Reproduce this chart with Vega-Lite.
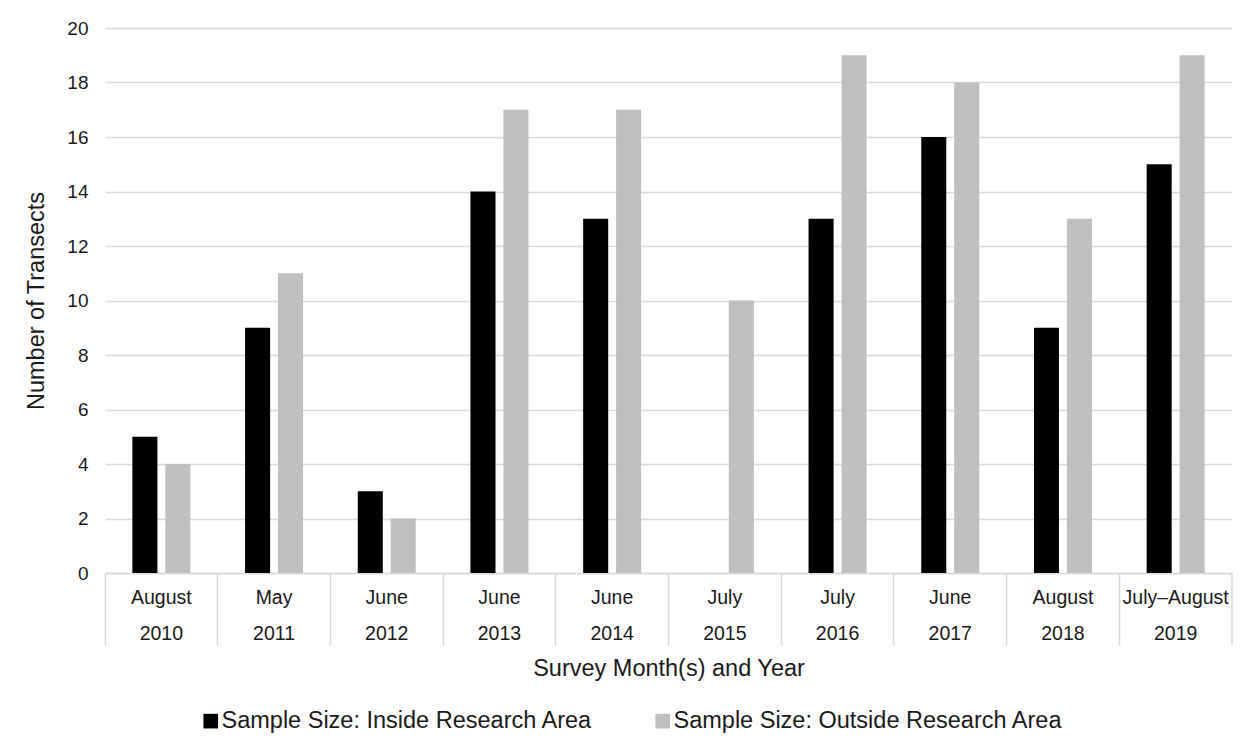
{
  "$schema": "https://vega.github.io/schema/vega-lite/v6.json",
  "autosize": {"type": "none"},
  "width": 1127,
  "height": 545,
  "padding": {"left": 105, "top": 28, "right": 18, "bottom": 174},
  "background": "white",
  "config": {
    "font": "Liberation Sans",
    "view": {"stroke": null}
  },
  "data": {
    "values": [
      {"period": "August|2010", "series": "Sample Size: Inside Research Area", "count": 5},
      {"period": "August|2010", "series": "Sample Size: Outside Research Area", "count": 4},
      {"period": "May|2011", "series": "Sample Size: Inside Research Area", "count": 9},
      {"period": "May|2011", "series": "Sample Size: Outside Research Area", "count": 11},
      {"period": "June|2012", "series": "Sample Size: Inside Research Area", "count": 3},
      {"period": "June|2012", "series": "Sample Size: Outside Research Area", "count": 2},
      {"period": "June|2013", "series": "Sample Size: Inside Research Area", "count": 14},
      {"period": "June|2013", "series": "Sample Size: Outside Research Area", "count": 17},
      {"period": "June|2014", "series": "Sample Size: Inside Research Area", "count": 13},
      {"period": "June|2014", "series": "Sample Size: Outside Research Area", "count": 17},
      {"period": "July|2015", "series": "Sample Size: Outside Research Area", "count": 10},
      {"period": "July|2016", "series": "Sample Size: Inside Research Area", "count": 13},
      {"period": "July|2016", "series": "Sample Size: Outside Research Area", "count": 19},
      {"period": "June|2017", "series": "Sample Size: Inside Research Area", "count": 16},
      {"period": "June|2017", "series": "Sample Size: Outside Research Area", "count": 18},
      {"period": "August|2018", "series": "Sample Size: Inside Research Area", "count": 9},
      {"period": "August|2018", "series": "Sample Size: Outside Research Area", "count": 13},
      {"period": "July–August|2019", "series": "Sample Size: Inside Research Area", "count": 15},
      {"period": "July–August|2019", "series": "Sample Size: Outside Research Area", "count": 19}
    ]
  },
  "layer": [
    {
      "mark": {"type": "bar"},
      "encoding": {
        "x": {
          "field": "period",
          "type": "nominal",
          "sort": null,
          "scale": {"paddingInner": 0, "paddingOuter": 0},
          "axis": {
            "title": "Survey Month(s) and Year",
            "titleFontSize": 23.5,
            "titleFontWeight": "normal",
            "titleColor": "#1a1a1a",
            "titlePadding": 11,
            "labelAngle": 0,
            "labelExpr": "split(datum.label, '|')",
            "labelFontSize": 19.5,
            "labelColor": "#1a1a1a",
            "labelLineHeight": 36,
            "labelBaseline": "top",
            "labelPadding": -57,
            "labelLimit": 200,
            "bandPosition": 0,
            "ticks": true,
            "tickSize": 72,
            "tickColor": "#d9d9d9",
            "tickWidth": 1.5,
            "domain": true,
            "domainColor": "#d9d9d9",
            "domainWidth": 1.5,
            "grid": false
          }
        },
        "xOffset": {
          "field": "series",
          "type": "nominal",
          "scale": {"paddingInner": 0.24, "paddingOuter": 0.83}
        },
        "y": {
          "field": "count",
          "type": "quantitative",
          "scale": {"domain": [0, 20], "nice": false},
          "axis": {
            "title": "Number of Transects",
            "titleFontSize": 23.5,
            "titleFontWeight": "normal",
            "titleColor": "#1a1a1a",
            "titlePadding": 18,
            "values": [0, 2, 4, 6, 8, 10, 12, 14, 16, 18, 20],
            "labelFontSize": 19,
            "labelColor": "#1a1a1a",
            "labelPadding": 17,
            "ticks": false,
            "domain": false,
            "grid": true,
            "gridColor": "#d9d9d9",
            "gridWidth": 1.5
          }
        },
        "color": {
          "field": "series",
          "type": "nominal",
          "scale": {
            "domain": ["Sample Size: Inside Research Area", "Sample Size: Outside Research Area"],
            "range": ["#000000", "#bfbfbf"]
          },
          "legend": {
            "title": null,
            "orient": "none",
            "legendX": 94,
            "legendY": 681,
            "direction": "horizontal",
            "symbolType": "square",
            "symbolSize": 215,
            "symbolStrokeWidth": 0,
            "labelFontSize": 23.5,
            "labelColor": "#1a1a1a",
            "labelLimit": 600,
            "columnPadding": 58,
            "labelOffset": -1
          }
        }
      }
    },
    {
      "data": {"values": [{"period": "July–August|2019", "y0": 0, "y1": -2.64}]},
      "mark": {"type": "rule", "color": "#d9d9d9", "strokeWidth": 1.5},
      "encoding": {
        "x": {"field": "period", "type": "nominal", "sort": null, "bandPosition": 1},
        "y": {"field": "y0", "type": "quantitative"},
        "y2": {"field": "y1"}
      }
    }
  ]
}
